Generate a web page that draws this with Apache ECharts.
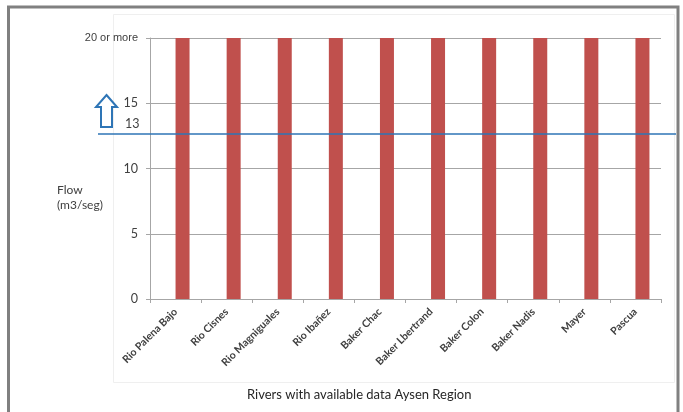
<!DOCTYPE html>
<html>
<head>
<meta charset="utf-8">
<script src="https://cdn.jsdelivr.net/npm/echarts@6/dist/echarts.min.js"></script>
<style>
  html, body { margin: 0; padding: 0; background: #fff; }
  #main { width: 683px; height: 412px; }
</style>
</head>
<body>
<div id="main"></div>
<script>
// rivers and their flows (all reported as "20 or more")
var rivers = ['Rio Palena Bajo', 'Rio Cisnes', 'Rio Magniguales', 'Rio Ibañez', 'Baker Chac',
  'Baker Lbertrand', 'Baker Colon', 'Baker Nadis', 'Mayer', 'Pascua'];
var flows = [20, 20, 20, 20, 20, 20, 20, 20, 20, 20];
var blank = [null, null, null, null, null, null, null, null, null, null];
var yTicks = [0, 5, 10, 15, 20];
var threshold = 12.7;   // blue line, labelled "13"

var font = 'Lato';
var myChart = echarts.init(document.getElementById('main'));

var option = {
  backgroundColor: '#fff',
  animation: false,
  grid: [
    { left: 150, right: 22, top: 38, bottom: 113 },
    { left: 98, right: 7, top: 38, bottom: 113 }
  ],
  xAxis: [
    {
      type: 'category',
      data: rivers,
      gridIndex: 0,
      axisLine: { lineStyle: { color: '#a6a6a6' } },
      axisTick: { show: true, length: 4, lineStyle: { color: '#a6a6a6' } },
      axisLabel: {
        interval: 0, rotate: 45, margin: 11,
        color: '#404040', fontFamily: font, fontSize: 10.5, fontWeight: 'bold'
      }
    },
    { type: 'value', gridIndex: 1, min: 0, max: 1, show: false }
  ],
  yAxis: [
    {
      type: 'value',
      gridIndex: 0,
      min: yTicks[0],
      max: yTicks[yTicks.length - 1],
      interval: 5,
      axisLine: { show: true, lineStyle: { color: '#a6a6a6' } },
      axisTick: { show: true, length: 4, lineStyle: { color: '#a6a6a6' } },
      splitLine: { lineStyle: { color: '#a6a6a6', width: 1 } },
      axisLabel: {
        margin: 12,
        color: '#404040', fontFamily: font, fontSize: 12.5,
        formatter: function (v) {
          return v === 20 ? '{s|20 or more}' : String(v);
        },
        rich: { s: { fontFamily: 'Liberation Sans', fontSize: 11, color: '#404040' } }
      }
    },
    { type: 'value', gridIndex: 1, min: 0, max: 20, show: false }
  ],
  series: [
    {
      name: 'blank', type: 'bar', data: blank,
      xAxisIndex: 0, yAxisIndex: 0, barWidth: 14, barGap: '0%'
    },
    {
      name: 'Flow', type: 'bar', data: flows,
      xAxisIndex: 0, yAxisIndex: 0, barWidth: 14, barGap: '0%',
      itemStyle: { color: '#c0504d' }
    },
    {
      name: 'threshold', type: 'line', data: [],
      xAxisIndex: 1, yAxisIndex: 1,
      markLine: {
        symbol: 'none', silent: true,
        label: { show: false },
        lineStyle: { color: '#2e75b6', width: 1.5, type: 'solid' },
        data: [{ yAxis: threshold }]
      }
    }
  ],
  graphic: [
    // outer frame
    {
      type: 'rect', z: 100,
      shape: { x: 8.5, y: 7, width: 669.5, height: 430 },
      style: { fill: 'none', stroke: '#808080', lineWidth: 3 }
    },
    // faint chart area border
    {
      type: 'rect', z: 0,
      shape: { x: 113.5, y: 14.5, width: 561, height: 368 },
      style: { fill: 'none', stroke: '#efefef', lineWidth: 1 }
    },
    // up arrow
    {
      type: 'polygon', z: 100,
      shape: { points: [[106.5, 95], [117, 107], [112, 107], [112, 127], [101, 127], [101, 107], [96, 107]] },
      style: { fill: '#fff', stroke: '#2e75b6', lineWidth: 2 }
    },
    {
      type: 'text', z: 100, left: 125, top: 117,
      style: { text: '13', font: '12.5px ' + font, fill: '#404040' }
    },
    {
      type: 'text', z: 100, left: 57, top: 183,
      style: { text: 'Flow\n(m3/seg)', font: '12px ' + font, fill: '#404040', align: 'center', lineHeight: 15, width: 44 }
    },
    {
      type: 'text', z: 100, left: 247, top: 388,
      style: { text: 'Rivers with available data Aysen Region', font: '13px ' + font, fill: '#262626' }
    }
  ]
};

window.onresize = function () {
  myChart.resize();
};
myChart.setOption(option);
</script>
</body>
</html>
